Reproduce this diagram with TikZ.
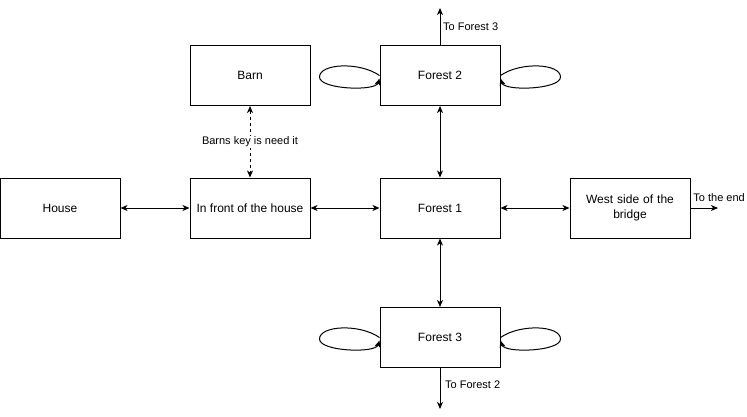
\documentclass[tikz,border=0pt]{standalone}
\usepackage{fontspec}
\setmainfont{Liberation Sans}
\usetikzlibrary{calc,arrows.meta}

\begin{document}
\begin{tikzpicture}[x=1pt,y=-1pt,
    room/.style={draw,line width=1pt,minimum width=120pt,minimum height=60pt,
        inner sep=2pt,align=center,font=\fontsize{12}{15}\selectfont},
    tag/.style={inner sep=1pt,font=\fontsize{11}{13}\selectfont},
    oneway/.style={line width=1pt,-{Stealth[length=7pt,width=6pt,inset=2pt]}},
    twoway/.style={line width=1pt,{Stealth[length=7pt,width=6pt,inset=2pt]}-{Stealth[length=7pt,width=6pt,inset=2pt]}}]
        \useasboundingbox (0,0) rectangle (747,416);

        % Draw the rooms
        \node[room] (house) at (60,208) {House};
        \node[room] (front) at (250,208) {In front of the house};
        \node[room] (forest1) at (440,208) {Forest 1};
        \node[room,text width=110pt] (bridge) at (630,208) {West side of the\\bridge};
        \node[room] (barn) at (250,75.5) {Barn};
        \node[room] (forest2) at (440,75.5) {Forest 2};
        \node[room] (forest3) at (440,337.5) {Forest 3};

        % Free ends of the exits
        \coordinate (up2) at (440,8);
        \coordinate (down3) at (440,409);
        \coordinate (theend) at (718,208);

        % Draw the paths between rooms
        \draw[twoway] (house) -- (front);
        \draw[twoway] (front) -- (forest1);
        \draw[twoway] (forest1) -- (bridge);
        \draw[twoway] (forest1) -- (forest2);
        \draw[twoway] (forest1) -- (forest3);
        \draw[twoway,dashed,dash pattern=on 3pt off 3pt] (barn) -- (front)
            node[midway,fill=white,tag] (key) {Barns key is need it};

        % Draw the exits
        \draw[oneway] (forest2.north) -- (up2);
        \draw[oneway] (forest3.south) -- (down3);
        \draw[oneway] (bridge.east) -- (theend);
        \node[tag,anchor=west] (to3) at (442,27) {To Forest 3};
        \node[tag,anchor=west] (to2) at (444,385) {To Forest 2};
        \node[tag,anchor=east] (toend) at (746,198) {To the end};

        % Draw the loops on the forests
        \foreach \f in {forest2,forest3} {
            \draw[oneway] (\f.west) .. controls ($(\f.west)+(-20,-14)$) and ($(\f.west)+(-60,-12)$) .. ($(\f.west)+(-60,1.5)$)
                .. controls ($(\f.west)+(-60,14)$) and ($(\f.west)+(-4,16)$) .. ($(\f.west)+(0,3)$);
            \draw[oneway] (\f.east) .. controls ($(\f.east)+(20,-14)$) and ($(\f.east)+(60,-12)$) .. ($(\f.east)+(60,1.5)$)
                .. controls ($(\f.east)+(60,14)$) and ($(\f.east)+(4,16)$) .. ($(\f.east)+(0,3)$);
        }
    \end{tikzpicture}
\end{document}
